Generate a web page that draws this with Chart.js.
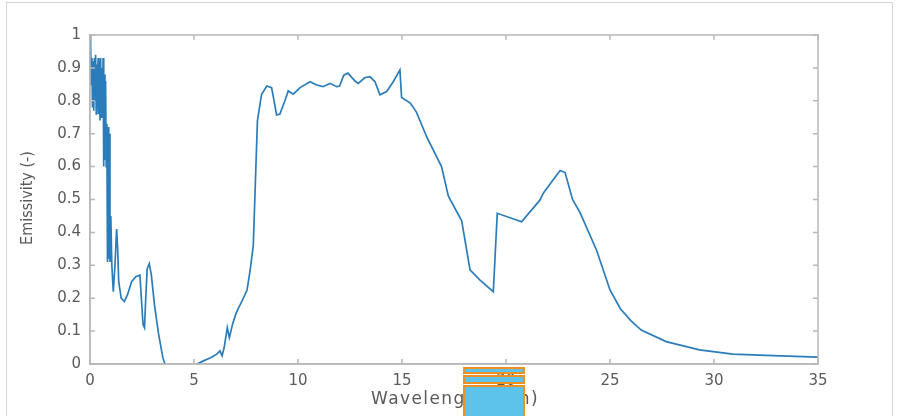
<!DOCTYPE html>
<html>
<head>
<meta charset="utf-8">
<script src="https://cdn.jsdelivr.net/npm/chart.js@4/dist/chart.umd.min.js"></script>
<style>
  html, body { margin: 0; padding: 0; background: #ffffff; overflow: hidden; }
  #wrap { position: relative; width: 899px; height: 416px; overflow: hidden; background: #fff; }
  canvas { position: absolute; left: 0; top: 0; }
  #pageframe { position: absolute; left: 6px; top: 2px; width: 887px; height: 414px; border: 1px solid #d4d4d4; border-bottom: none; box-sizing: border-box; }
  .ov { position: absolute; left: 463px; width: 62px; box-sizing: border-box; border: 2px solid #f0901e; background: #5ec3ea; }
  #ytitle { position: absolute; left: 26px; top: 198px; transform: translate(-50%, -50%) rotate(-90deg); white-space: nowrap;
            font-family: "Liberation Sans Narrow", "DejaVu Sans Condensed", sans-serif; font-size: 16px; color: #5a5a5a; }
  #xtitle { position: absolute; left: 455px; top: 398px; transform: translate(-50%, -50%); white-space: nowrap;
            font-family: "DejaVu Sans", sans-serif; font-size: 17px; letter-spacing: 1.4px; color: #5a5a5a; }
  #err { position: absolute; left: 120px; top: 120px; font: 12px monospace; color: red; }
</style>
</head>
<body>
<div id="wrap">
  <canvas id="c" width="899" height="416"></canvas>
  <div id="pageframe"></div>
  <div id="ytitle">Emissivity (-)</div>
  <div id="xtitle">Wavelength (μm)</div>
  <div class="ov" style="top:367px;height:7px;"></div>
  <div class="ov" style="top:375px;height:9px;"></div>
  <div class="ov" style="top:385px;height:40px;"></div>
  <div id="err"></div>
</div>
<script>
window.onerror = function (m) { document.getElementById('err').textContent += ' ' + m; };

// wavelength in micrometres
const wavelength = [
  0.00, 0.03, 0.06, 0.09, 0.12, 0.15, 0.18, 0.21, 0.24, 0.27, 0.30, 0.33, 0.36, 0.39,
  0.42, 0.45, 0.48, 0.51, 0.54, 0.57, 0.60, 0.63, 0.66, 0.69, 0.72, 0.75, 0.78, 0.81,
  0.84, 0.87, 0.90, 0.93, 0.96, 1.00, 1.05, 1.12, 1.20, 1.28, 1.33, 1.38, 1.50, 1.65,
  1.80, 2.00, 2.20, 2.40, 2.47, 2.55, 2.62, 2.68, 2.75, 2.85, 2.95, 3.10, 3.30, 3.50,
  3.65, 3.80, 4.50, 5.00, 5.15, 5.40, 5.77, 6.10, 6.25, 6.35, 6.45, 6.60, 6.70, 6.85,
  7.00, 7.10, 7.30, 7.55, 7.70, 7.85, 7.95, 8.05, 8.25, 8.50, 8.73, 8.85, 8.97, 9.13,
  9.37, 9.53, 9.77, 10.10, 10.58, 10.90, 11.20, 11.54, 11.86, 12.00, 12.20, 12.40,
  12.74, 12.90, 13.20, 13.46, 13.70, 13.94, 14.26, 14.58, 14.90, 14.98, 15.40, 15.70,
  16.19, 16.90, 17.23, 17.87, 18.27, 18.75, 19.39, 19.58, 20.75, 21.63, 21.80, 22.60,
  22.84, 23.20, 23.56, 24.36, 25.00, 25.50, 26.00, 26.50, 27.70, 29.30, 30.90, 32.50, 35.00
];
// emissivity
const emissivity = [
  1.00, 0.97, 0.85, 0.93, 0.78, 0.92, 0.77, 0.93, 0.80, 0.94, 0.76, 0.91, 0.78, 0.93,
  0.76, 0.92, 0.74, 0.93, 0.75, 0.90, 0.77, 0.93, 0.60, 0.88, 0.62, 0.86, 0.60, 0.73,
  0.31, 0.72, 0.32, 0.70, 0.31, 0.45, 0.30, 0.22, 0.30, 0.41, 0.35, 0.25, 0.20, 0.19,
  0.21, 0.25, 0.265, 0.27, 0.20, 0.12, 0.11, 0.20, 0.29, 0.305, 0.27, 0.18, 0.09, 0.02,
  -0.01, -0.03, -0.05, -0.01, 0.00, 0.008, 0.018, 0.03, 0.04, 0.025, 0.05, 0.11, 0.08, 0.12,
  0.15, 0.165, 0.19, 0.225, 0.285, 0.36, 0.55, 0.74, 0.82, 0.845, 0.84, 0.80, 0.757, 0.76,
  0.80, 0.83, 0.82, 0.84, 0.858, 0.848, 0.843, 0.853, 0.843, 0.845, 0.878, 0.884,
  0.860, 0.853, 0.870, 0.873, 0.858, 0.818, 0.828, 0.858, 0.894, 0.81, 0.793, 0.765,
  0.69, 0.60, 0.51, 0.435, 0.286, 0.255, 0.22, 0.458, 0.432, 0.498, 0.52, 0.588,
  0.582, 0.50, 0.46, 0.345, 0.225, 0.168, 0.132, 0.103, 0.068, 0.043, 0.030, 0.026, 0.021
];
const xTicks = [0, 5, 10, 15, 20, 25, 30, 35];
const yTicks = [0, 0.1, 0.2, 0.3, 0.4, 0.5, 0.6, 0.7, 0.8, 0.9, 1];

const points = wavelength.map((w, i) => ({ x: w, y: emissivity[i] }));

const axisColor = '#b8b8b8';
const labelColor = '#5a5a5a';

const tickPlugin = {
  id: 'innerTicks',
  afterDraw(chart) {
    const ctx = chart.ctx;
    const a = chart.chartArea;
    const sx = chart.scales.x;
    const sy = chart.scales.y;
    const tl = 5;
    ctx.save();
    ctx.strokeStyle = axisColor;
    ctx.lineWidth = 1.5;
    ctx.strokeRect(a.left, a.top, a.right - a.left, a.bottom - a.top);
    ctx.beginPath();
    for (const v of xTicks) {
      const px = sx.getPixelForValue(v);
      ctx.moveTo(px, a.bottom); ctx.lineTo(px, a.bottom - tl);
      ctx.moveTo(px, a.top); ctx.lineTo(px, a.top + tl);
    }
    for (const v of yTicks) {
      const py = sy.getPixelForValue(v);
      ctx.moveTo(a.left, py); ctx.lineTo(a.left + tl, py);
      ctx.moveTo(a.right, py); ctx.lineTo(a.right - tl, py);
    }
    ctx.stroke();
    ctx.restore();
  }
};

new Chart(document.getElementById('c'), {
  type: 'line',
  data: {
    datasets: [{
      data: points,
      borderColor: '#2a7cba',
      borderWidth: 1.7,
      pointRadius: 0,
      tension: 0,
      fill: false
    }]
  },
  options: {
    responsive: false,
    animation: false,
    events: [],
    layout: { padding: { left: 0, right: 81, top: 35, bottom: 0 } },
    plugins: { legend: { display: false }, tooltip: { enabled: false } },
    scales: {
      x: {
        type: 'linear',
        min: 0, max: 35,
        afterFit(s) { s.height = 52; },
        afterBuildTicks(s) { s.ticks = xTicks.map(v => ({ value: v })); },
        grid: { display: false, drawTicks: false },
        border: { display: true, color: axisColor, width: 1.5 },
        ticks: { color: labelColor, padding: 8, font: { family: 'DejaVu Sans', size: 15 } }
      },
      y: {
        min: 0, max: 1,
        afterFit(s) { s.width = 90; },
        afterBuildTicks(s) { s.ticks = yTicks.map(v => ({ value: v })); },
        grid: { display: false, drawTicks: false },
        border: { display: true, color: axisColor, width: 1.5 },
        ticks: {
          color: labelColor, padding: 9,
          font: { family: 'DejaVu Sans', size: 15 },
          callback: v => (v === 0 || v === 1) ? String(v) : v.toFixed(1)
        }
      }
    }
  },
  plugins: [tickPlugin]
});
</script>
</body>
</html>
